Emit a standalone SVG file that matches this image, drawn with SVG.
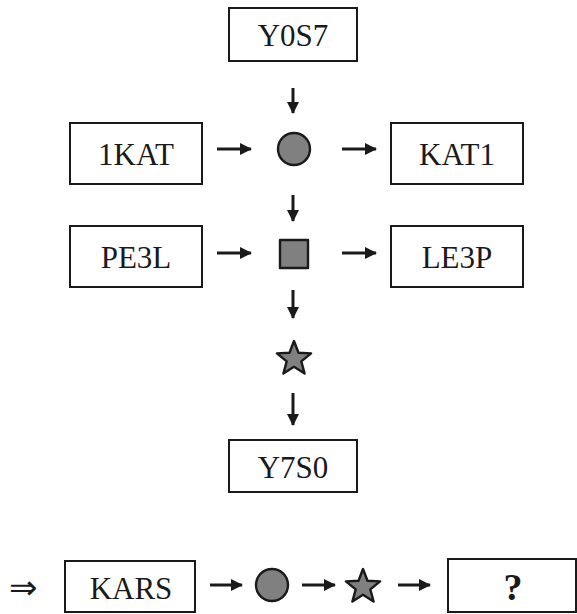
<svg xmlns="http://www.w3.org/2000/svg" width="577" height="614" viewBox="0 0 577 614">
<style>
.box{fill:#fff;stroke:#1a1a1a;stroke-width:2}
.shape{fill:#808080;stroke:#1a1a1a;stroke-width:2.4;stroke-linejoin:round}
.t{font-family:"Liberation Serif",serif;font-size:31px;fill:#1a1a1a;text-anchor:middle}
.c{stroke:#1a1a1a;stroke-width:3;fill:none;marker-end:url(#ah)}
</style>
<defs>
<marker id="ah" markerWidth="12" markerHeight="12" refX="11" refY="6" orient="auto" markerUnits="userSpaceOnUse">
<path d="M0,0 L12,6 L0,12 Z" fill="#1a1a1a"/>
</marker>
<path id="star" d="M0,-18 L4.5,-6.2 L17.1,-5.6 L7.3,2.4 L10.6,14.6 L0,7.7 L-10.6,14.6 L-7.3,2.4 L-17.1,-5.6 L-4.5,-6.2 Z"/>
</defs>
<g id="y0s7"><rect class="box" x="229" y="8" width="128" height="53"/><text class="t" x="293" y="46">Y0S7</text></g>
<g id="k1at"><rect class="box" x="70" y="123" width="132" height="61"/><text class="t" x="136" y="165">1KAT</text></g>
<g id="circle"><circle class="shape" cx="294" cy="149" r="16"/></g>
<g id="kat1"><rect class="box" x="391" y="123" width="132" height="61"/><text class="t" x="457" y="165">KAT1</text></g>
<g id="pe3l"><rect class="box" x="70" y="226" width="132" height="61"/><text class="t" x="136" y="268">PE3L</text></g>
<g id="square"><rect class="shape" x="280" y="240" width="28" height="28"/></g>
<g id="le3p"><rect class="box" x="391" y="226" width="132" height="61"/><text class="t" x="457" y="268">LE3P</text></g>
<g id="star1"><use href="#star" class="shape" x="294" y="359"/></g>
<g id="y7s0"><rect class="box" x="229" y="440" width="128" height="52"/><text class="t" x="293" y="478">Y7S0</text></g>
<g id="implies"><text x="9" y="599" style="font-family:'DejaVu Sans',sans-serif;font-size:34px;fill:#1a1a1a">⇒</text></g>
<g id="kars"><rect class="box" x="65" y="561" width="130" height="51"/><text class="t" x="131" y="599">KARS</text></g>
<g id="circle2"><circle class="shape" cx="272" cy="585" r="16"/></g>
<g id="star2"><use href="#star" class="shape" x="363" y="587"/></g>
<g id="q"><rect class="box" x="448" y="559" width="128" height="53"/><text class="t" x="513" y="600" style="font-weight:bold;font-size:38px">?</text></g>
<g id="connectors">
<line class="c" x1="293" y1="88" x2="293" y2="113"/>
<line class="c" x1="217" y1="149" x2="251" y2="149"/>
<line class="c" x1="342" y1="149" x2="376" y2="149"/>
<line class="c" x1="293" y1="195" x2="293" y2="221"/>
<line class="c" x1="217" y1="253" x2="251" y2="253"/>
<line class="c" x1="342" y1="253" x2="376" y2="253"/>
<line class="c" x1="293" y1="290" x2="293" y2="318"/>
<line class="c" x1="293" y1="393" x2="293" y2="425"/>
<line class="c" x1="210" y1="585" x2="242" y2="585"/>
<line class="c" x1="302" y1="585" x2="335" y2="585"/>
<line class="c" x1="398" y1="585" x2="430" y2="585"/>
</g>
</svg>
